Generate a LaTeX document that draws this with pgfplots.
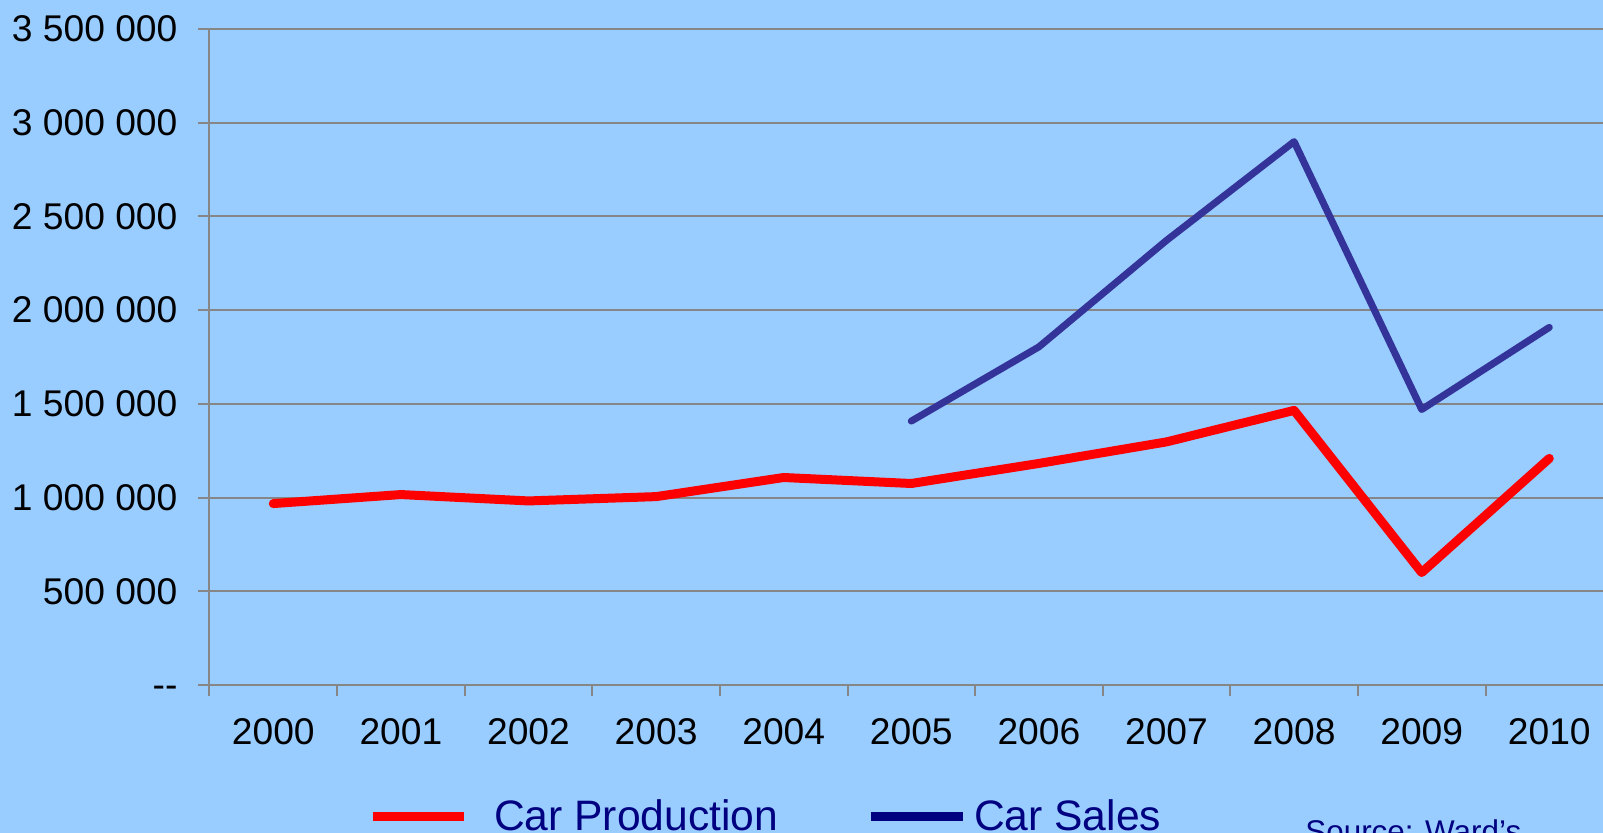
\documentclass[border=0pt]{standalone}
\usepackage{pgfplots}
\pgfplotsset{compat=1.18}
\usepackage{fontspec}
\setmainfont{Liberation Sans}

\definecolor{bgblue}{HTML}{99CCFF}
\definecolor{gridgray}{HTML}{868686}
\definecolor{prodred}{HTML}{FF0000}
\definecolor{salesblue}{HTML}{333399}
\definecolor{navy}{HTML}{000080}

\begin{document}
\begin{tikzpicture}
% background of the whole chart
\fill[bgblue] (0,0) rectangle (801.5pt,416.5pt);
\begin{axis}[
  at={(104.75pt,74pt)}, anchor=south west,
  scale only axis, width=701.8pt, height=328pt,
  xmin=-0.5, xmax=10.5, ymin=0, ymax=3500000,
  scaled y ticks=false,
  axis x line*=bottom, axis y line*=left,
  axis line style={gridgray, line width=1pt},
  xtick={-0.5,0.5,...,10.5},
  xticklabels={2000,2001,2002,2003,2004,2005,2006,2007,2008,2009,2010},
  x tick label as interval,
  ytick={0,500000,...,3500000},
  yticklabels={\vphantom{0}-{}-,500 000,1 000 000,1 500 000,2 000 000,2 500 000,3 000 000,3 500 000},
  tick align=outside, major tick length=5.5pt,
  tick style={gridgray, line width=1pt},
  ymajorgrids, grid style={gridgray, line width=1pt},
  ticklabel style={font=\fontsize{18.6}{20}\selectfont, text=black},
  yticklabel style={xshift=-7pt},
  xticklabel style={yshift=-7.7pt},
  legend columns=2,
  legend style={draw=none, fill=none, inner sep=0pt, outer sep=0pt,
    at={(axis description cs:0.1130,-0.2012)}, anchor=west,
    font=\fontsize{21.3}{24}\selectfont, text=navy,
    nodes={inner sep=0pt},
    /tikz/every even column/.append style={column sep=44pt}},
  legend cell align=left,
]
% car production
\addplot[forget plot, prodred, line width=4.5pt, line join=round, line cap=round]
  coordinates {(0,968000) (1,1016000) (2,982000) (3,1005000) (4,1107000)
    (5,1075000) (6,1182000) (7,1297000) (8,1465000) (9,600000) (10,1209000)};
% car sales
\addplot[forget plot, salesblue, line width=3.5pt, line join=round, line cap=round]
  coordinates {(5,1408000) (6,1804000) (7,2372000) (8,2899000) (9,1470000) (10,1908000)};

\addlegendimage{legend image code/.code={
  \draw[prodred, line width=4.5pt] (0pt,0pt) -- (45.5pt,0pt);
  \path (60.5pt,0pt);}}
\addlegendentry{Car Production}
\addlegendimage{legend image code/.code={
  \draw[navy, line width=4.5pt] (0pt,0pt) -- (46pt,0pt);
  \path (51.5pt,0pt);}}
\addlegendentry{Car Sales}
\end{axis}
\node[anchor=base west, inner sep=0pt, text=navy, font=\fontsize{15.7}{18}\selectfont]
  at (652.5pt,-4.75pt) {Source: Ward’s};
\pgfresetboundingbox
\path[use as bounding box] (0,0) rectangle (801.5pt,416.5pt);
\end{tikzpicture}
\end{document}
